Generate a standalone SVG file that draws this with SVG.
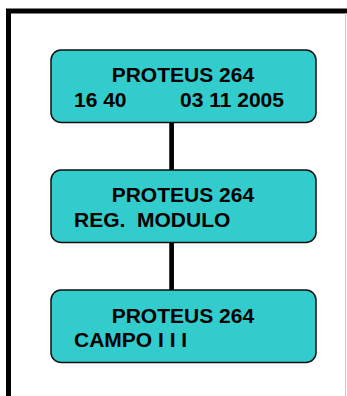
<svg xmlns="http://www.w3.org/2000/svg" width="347" height="396" viewBox="0 0 347 396">
<style>
.box{fill:#33CCCC;stroke:#111;stroke-width:1.5}
.t{font-family:"Liberation Sans",Arial,sans-serif;font-weight:bold;font-size:21px;fill:#000}
.conn{stroke:#000;stroke-width:4.7;fill:none}
</style>
<rect x="0" y="0" width="347" height="396" fill="#fff"/>
<rect x="8.5" y="11" width="360" height="400" fill="none" stroke="#000" stroke-width="5"/>
<line x1="345.5" y1="13" x2="345.5" y2="396" stroke="#c8c8c8" stroke-width="1"/>
<g id="connectors">
<line class="conn" x1="171.6" y1="122" x2="171.6" y2="170"/>
<line class="conn" x1="171.6" y1="242" x2="171.6" y2="290"/>
</g>
<g id="node1">
<rect class="box" x="51" y="50" width="265" height="72.5" rx="10"/>
<text class="t" x="111.7" y="81.7">PROTEUS 264</text>
<text class="t" x="74" y="106.7">16 40</text>
<text class="t" x="180" y="106.7">03 11 2005</text>
</g>
<g id="node2">
<rect class="box" x="51" y="170" width="265" height="72.5" rx="10"/>
<text class="t" x="111.7" y="201.7">PROTEUS 264</text>
<text class="t" x="74" y="226.7" xml:space="preserve">REG.  MODULO</text>
</g>
<g id="node3">
<rect class="box" x="51" y="290" width="265" height="72.5" rx="10"/>
<text class="t" x="111.7" y="322.7">PROTEUS 264</text>
<text class="t" x="74" y="346.7">CAMPO I I I</text>
</g>
</svg>
